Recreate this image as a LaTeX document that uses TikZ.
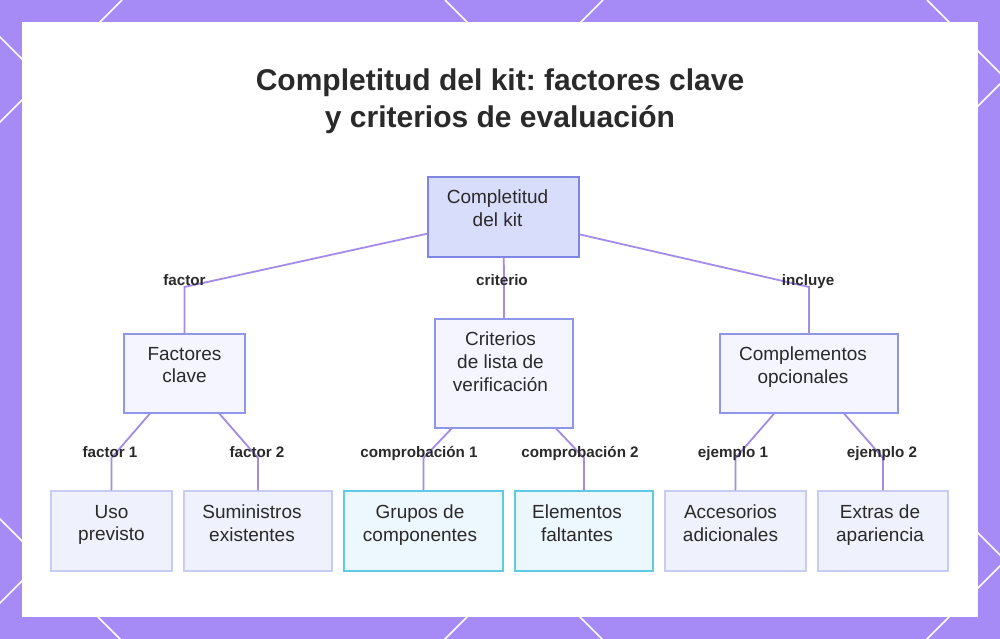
\documentclass[tikz,border=0pt]{standalone}
\usepackage{fontspec}
\setmainfont{Liberation Sans}
\frenchspacing
\definecolor{bgpurple}{HTML}{A68AF6}
\definecolor{rootfill}{HTML}{D9DDFC}
\definecolor{rootdraw}{HTML}{7D87E2}
\definecolor{midfill}{HTML}{F4F5FE}
\definecolor{middraw}{HTML}{8E96E8}
\definecolor{leaffill}{HTML}{EFF1FD}
\definecolor{leafdraw}{HTML}{C8CBF4}
\definecolor{cyanfill}{HTML}{EDF8FE}
\definecolor{cyandraw}{HTML}{5FCBE2}
\definecolor{connc}{HTML}{A38BE8}
\definecolor{txtc}{HTML}{2A2A2A}
\begin{document}
\begin{tikzpicture}[x=1pt,y=-1pt,
  diag/.style={draw=white,line width=1.5pt},
  boxbase/.style={rectangle,inner sep=0pt,line width=1.5pt},
  rootbox/.style={boxbase,fill=rootfill,draw=rootdraw},
  midbox/.style={boxbase,fill=midfill,draw=middraw},
  leafbox/.style={boxbase,fill=leaffill,draw=leafdraw},
  cyanbox/.style={boxbase,fill=cyanfill,draw=cyandraw},
  boxtext/.style={anchor=north,align=center,text=txtc,inner sep=0pt,
    font=\fontsize{19}{22.75}\selectfont,
    execute at begin node=\strut, execute at end node=\strut},
  conn/.style={draw=connc,line width=1.8pt},
  lbl/.style={anchor=base,text=txtc,inner sep=0pt,font=\fontsize{15.2}{18}\selectfont\bfseries},
  titletext/.style={align=center,text=txtc,font=\fontsize{30}{37.5}\selectfont\bfseries}
]
\useasboundingbox (0,0) rectangle (1000,639);
\fill[bgpurple] (0,0) rectangle (1000,639);
\begin{scope}
  \clip (0,0) rectangle (1000,639);
  \foreach \cc in {122,603,1084,1566} \draw[diag] (\cc,0) -- (\cc-700,700);
  \foreach \cc in {-519,-37,445,927} \draw[diag] (\cc,0) -- (\cc+700,700);
\end{scope}
\fill[white] (22,22) rectangle (978,617);

\node[titletext] (title) at (500,101) {Completitud del kit: factores clave\\y criterios de evaluación};

% bend coordinates
\coordinate (b1) at (184.5,287);
\coordinate (b2) at (504,287);
\coordinate (b3) at (809,287);
\coordinate (c1) at (111.5,458);
\coordinate (c2) at (258,458);
\coordinate (c3) at (423.5,458);
\coordinate (c4) at (584,458);
\coordinate (c5) at (735.5,458);
\coordinate (c6) at (883,458);

% boxes
\node[rootbox,minimum width=151pt,minimum height=80pt] (root) at (503.5,217) {};
\node[midbox,minimum width=121pt,minimum height=79pt] (fac) at (184.5,373.5) {};
\node[midbox,minimum width=138pt,minimum height=109pt] (cri) at (504,373.5) {};
\node[midbox,minimum width=178pt,minimum height=79pt] (com) at (809,373.5) {};
\node[leafbox,minimum width=121pt,minimum height=80pt] (uso) at (111.5,531) {};
\node[leafbox,minimum width=148pt,minimum height=80pt] (sum) at (258,531) {};
\node[cyanbox,minimum width=159pt,minimum height=80pt] (gru) at (423.5,531) {};
\node[cyanbox,minimum width=138pt,minimum height=80pt] (ele) at (584,531) {};
\node[leafbox,minimum width=141pt,minimum height=80pt] (acc) at (735.5,531) {};
\node[leafbox,minimum width=130pt,minimum height=80pt] (ext) at (883,531) {};

% connectors
\draw[conn] (root) -- (b1) -- (fac.north);
\draw[conn] (root) -- (b2) -- (cri.north);
\draw[conn] (root) -- (b3) -- (com.north);
\draw[conn] (fac) -- (c1) -- (uso.north);
\draw[conn] (fac) -- (c2) -- (sum.north);
\draw[conn] (cri) -- (c3) -- (gru.north);
\draw[conn] (cri) -- (c4) -- (ele.north);
\draw[conn] (com) -- (c5) -- (acc.north);
\draw[conn] (com) -- (c6) -- (ext.north);

% box texts
\node[boxtext] (troot) at ([xshift=-6pt,yshift=-13.6pt]root.north) {Completitud\\del kit};
\node[boxtext] (tfac) at ([xshift=0pt,yshift=-13.6pt]fac.north) {Factores\\clave};
\node[boxtext] (tcri) at ([xshift=-3.5pt,yshift=-13.6pt]cri.north) {Criterios\\de lista de\\verificación};
\node[boxtext] (tcom) at ([xshift=-6pt,yshift=-13.6pt]com.north) {Complementos\\opcionales};
\node[boxtext] (tuso) at ([xshift=0pt,yshift=-14.6pt]uso.north) {Uso\\previsto};
\node[boxtext] (tsum) at ([xshift=-6pt,yshift=-14.6pt]sum.north) {Suministros\\existentes};
\node[boxtext] (tgru) at ([xshift=-3.5pt,yshift=-14.6pt]gru.north) {Grupos de\\componentes};
\node[boxtext] (tele) at ([xshift=-7pt,yshift=-14.6pt]ele.north) {Elementos\\faltantes};
\node[boxtext] (tacc) at ([xshift=-5pt,yshift=-14.6pt]acc.north) {Accesorios\\adicionales};
\node[boxtext] (text) at ([xshift=-3pt,yshift=-14.6pt]ext.north) {Extras de\\apariencia};

% labels
\node[lbl] (l1) at (184.5,285) {factor};
\node[lbl] (l2) at (502,285) {criterio};
\node[lbl] (l3) at (808,285) {incluye};
\node[lbl] (l4) at (110,457) {factor 1};
\node[lbl] (l5) at (257,457) {factor 2};
\node[lbl] (l6) at (419,457) {comprobación 1};
\node[lbl] (l7) at (580,457) {comprobación 2};
\node[lbl] (l8) at (733,457) {ejemplo 1};
\node[lbl] (l9) at (882,457) {ejemplo 2};
\end{tikzpicture}
\end{document}
